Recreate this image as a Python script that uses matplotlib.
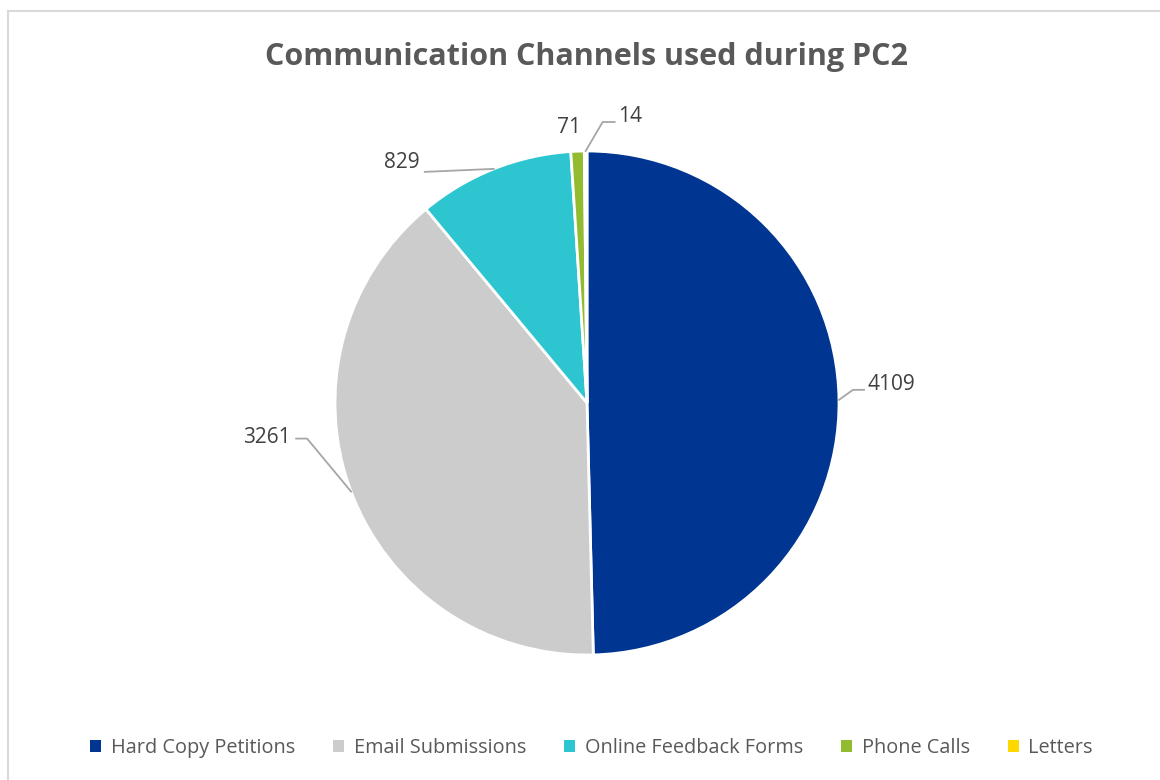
import numpy as np
import matplotlib.pyplot as plt
import matplotlib.patches as mpatches

plt.rcParams['font.family'] = ['Open Sans', 'DejaVu Sans']

# data
channels = ['Hard Copy Petitions', 'Email Submissions', 'Online Feedback Forms', 'Phone Calls', 'Letters']
counts = [4109, 3261, 829, 71, 14]
colors = ['#003591', '#cccccc', '#2dc6d0', '#92bb30', '#ffd800']

# label offsets from slice edge, in pixels (elbow, line end, text) and text alignment
R = 252.0
label_style = [
    ((14, 10), (25, 10), (29, 15), 'left'),
    ((-44, 53), (-55, 53), (-60, 54), 'right'),
    (None, (-69, -3), (-74, 6), 'right'),
    (None, None, (-9, 24), 'center'),
    ((17, 29), (29, 29), (32, 35), 'left'),
]

fig = plt.figure(figsize=(11.6, 7.8), dpi=100)
fig.patch.set_facecolor('white')

# frame
frame = mpatches.Rectangle((8 / 1160, -0.1), 1.2, 0.1 + 769 / 780, transform=fig.transFigure,
                           fill=False, edgecolor='#d9d9d9', linewidth=1.5)
fig.patches.append(frame)

fig.text(0.506, 1 - 57 / 780, 'Communication Channels used during PC2', ha='center', va='center',
         fontsize=22, fontweight='bold', color='#595959')

ax = fig.add_axes([(587 - R) / 1160, (780 - 403 - R) / 780, 2 * R / 1160, 2 * R / 780])
wedges, _ = ax.pie(counts, colors=colors, startangle=90, counterclock=False, radius=1,
                   wedgeprops=dict(edgecolor='white', linewidth=2))
ax.set_xlim(-1, 1)
ax.set_ylim(-1, 1)
ax.axis('off')

for w, val, (elbow, end, txt, ha) in zip(wedges, counts, label_style):
    ang = np.deg2rad((w.theta1 + w.theta2) / 2)
    x0, y0 = np.cos(ang), np.sin(ang)
    pts = [(x0, y0)]
    if elbow is not None:
        pts.append((x0 + elbow[0] / R, y0 + elbow[1] / R))
    if end is not None:
        pts.append((x0 + end[0] / R, y0 + end[1] / R))
    if len(pts) > 1:
        xs, ys = zip(*pts)
        ax.plot(xs, ys, color='#a6a6a6', linewidth=1.3, clip_on=False)
    ax.text(x0 + txt[0] / R, y0 + txt[1] / R, str(val), ha=ha, va='center',
            fontsize=15, color='#404040', clip_on=False)

handles = [mpatches.Patch(facecolor=c, edgecolor='none') for c in colors]
leg = fig.legend(handles, channels, loc='center', bbox_to_anchor=(0.51, 1 - 748 / 780), ncol=5,
                 frameon=False, fontsize=14.3, handlelength=0.55, handleheight=0.55,
                 handletextpad=0.5, columnspacing=1.9)
for t in leg.get_texts():
    t.set_color('#595959')

fig.savefig('out.png', dpi=100, facecolor='white')
